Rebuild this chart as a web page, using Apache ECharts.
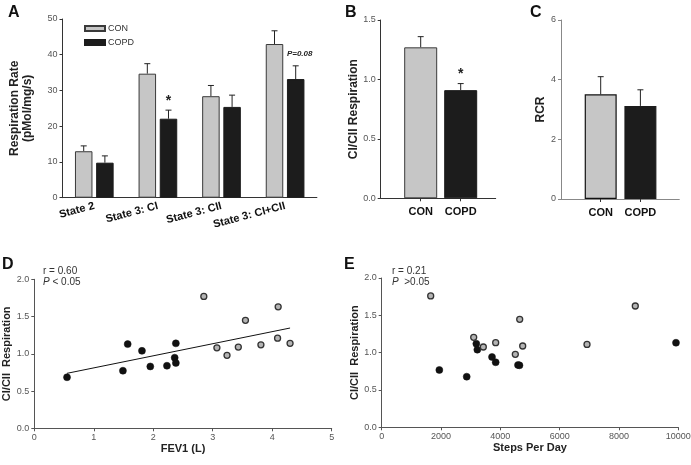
<!DOCTYPE html>
<html><head><meta charset="utf-8">
<script src="https://cdn.jsdelivr.net/npm/echarts@6/dist/echarts.min.js"></script>
<style>html,body{margin:0;padding:0;background:#fff}#c{width:691px;height:465px}</style>
</head><body><div id="c"></div>
<script>
// ---- data ----
const statesA = ['State 2', 'State 3: CI', 'State 3: CII', 'State 3: CI+CII'];
const conA = [13.0, 34.7, 28.4, 43.0];
const conAse = [1.5, 2.8, 3.0, 3.7];
const copdA = [9.8, 22.1, 25.4, 33.2];
const copdAse = [1.9, 2.4, 3.3, 3.7];
const groupsBC = ['CON', 'COPD'];
const ratioB = [1.27, 0.91];
const ratioBse = [0.09, 0.055];
const rcrC = [3.51, 3.12];
const rcrCse = [0.59, 0.54];
const fev1Copd = [0.55, 1.49, 1.57, 1.81, 1.95, 2.23, 2.38, 2.36, 2.38];
const ratioCopdD = [0.685, 0.773, 1.13, 1.04, 0.83, 0.84, 1.14, 0.948, 0.877];
const fev1Con = [2.85, 4.10, 3.55, 3.07, 3.24, 3.43, 3.81, 4.09, 4.30];
const ratioConD = [1.77, 1.63, 1.45, 1.08, 0.98, 1.09, 1.12, 1.21, 1.14];
const fitX = [0.55, 4.30];
const fitY = [0.738, 1.346];
const stepsCopd = [1943, 2866, 3190, 3224, 3719, 3843, 4595, 4645, 9922];
const ratioCopdE = [0.768, 0.678, 1.12, 1.04, 0.942, 0.871, 0.834, 0.83, 1.133];
const stepsCon = [1652, 3102, 3426, 3843, 4505, 4653, 4754, 6922, 8550];
const ratioConE = [1.76, 1.205, 1.076, 1.133, 0.978, 1.447, 1.089, 1.11, 1.625];
const ticksA = [0, 10, 20, 30, 40, 50];

// ---- styles ----
const FONT = 'Liberation Sans, Arial, sans-serif';
const CON_FILL = '#c6c6c6', CON_BORDER = '#3a3a3a', COPD_FILL = '#1c1c1c';
const BAR_W_A = 17.5, GAP_A = 0.21;
const tickLbl = {fontSize: 9, color: '#555', fontFamily: FONT, margin: 5};
const nameStyle = {fontSize: 12, fontWeight: 'bold', color: '#222', fontFamily: FONT};

function errItem(params, api, dx, note) {
  const base = api.coord([api.value(0), api.value(1)]);
  const top = api.coord([api.value(0), api.value(1) + api.value(2)]);
  const x = base[0] + dx;
  const stroke = {stroke: '#222', lineWidth: 1};
  const ch = [
    {type: 'line', shape: {x1: x, y1: base[1], x2: x, y2: top[1]}, style: stroke},
    {type: 'line', shape: {x1: x - 3, y1: top[1], x2: x + 3, y2: top[1]}, style: stroke}
  ];
  if (note && note.text) {
    ch.push({type: 'text', x: x + (note.dx || 0), y: top[1] - (note.dy || 0),
      style: {text: note.text, fontSize: note.size, fontWeight: 'bold', fontStyle: note.italic ? 'italic' : 'normal',
        fontFamily: FONT, fill: '#222', align: 'center', verticalAlign: 'middle'}});
  }
  return {type: 'group', children: ch};
}
const notesA = [[null, null, null, null], [null, {text: '*', size: 14, dy: 9}, null, {text: 'P=0.08', size: 8, italic: true, dx: 4, dy: 12}]];
const notesB = [null, {text: '*', size: 14, dy: 9}];
const off = BAR_W_A * (1 + GAP_A) / 2;

const chart = echarts.init(document.getElementById('c'), null, {renderer: 'canvas'});
const gridBase = {containLabel: false, outerBoundsMode: 'none'};
const plain = v => String(v);
chart.setOption({
  animation: false,
  textStyle: {fontFamily: FONT},
  grid: [
    Object.assign({left: 62.5, top: 19, width: 254.4, height: 178.7}, gridBase),
    Object.assign({left: 380.7, top: 20, width: 115, height: 178.3}, gridBase),
    Object.assign({left: 561, top: 20, width: 118.3, height: 179}, gridBase),
    Object.assign({left: 34.3, top: 279.3, width: 297.4, height: 149}, gridBase),
    Object.assign({left: 381.7, top: 278, width: 296.6, height: 149.3}, gridBase)
  ],
  legend: {
    gridIndex: 0, left: 79, top: 19, orient: 'vertical', itemWidth: 20, itemHeight: 5, itemGap: 5,
    icon: 'rect', data: ['CON', 'COPD'], textStyle: {fontSize: 9, color: '#333', fontFamily: FONT, padding: [0, 0, 0, -2]}
  },
  xAxis: [
    {gridIndex: 0, type: 'category', data: statesA, axisLine: {lineStyle: {color: '#333'}},
      axisTick: {alignWithLabel: true, length: 3, lineStyle: {color: '#333'}},
      axisLabel: {rotate: 15, fontSize: 11, fontWeight: 'bold', color: '#111', fontFamily: FONT, margin: 8, interval: 0}},
    {gridIndex: 1, type: 'value', min: 0, max: 2.875, interval: 1, splitLine: {show: false},
      axisLine: {onZero: false, lineStyle: {color: '#333'}},
      axisTick: {show: true, length: 3, customValues: [1, 2], lineStyle: {color: '#333'}},
      axisLabel: {customValues: [1, 2], formatter: v => groupsBC[Math.round(v) - 1] || '', fontSize: 11, fontWeight: 'bold', color: '#111', fontFamily: FONT, margin: 8}},
    {gridIndex: 2, type: 'value', min: 0, max: 2.98, interval: 1, splitLine: {show: false},
      axisLine: {onZero: false, lineStyle: {color: '#888'}},
      axisTick: {show: true, length: 3, customValues: [1, 2], lineStyle: {color: '#333'}},
      axisLabel: {customValues: [1, 2], formatter: v => groupsBC[Math.round(v) - 1] || '', fontSize: 11, fontWeight: 'bold', color: '#111', fontFamily: FONT, margin: 8}},
    {gridIndex: 3, type: 'value', min: 0, max: 5, interval: 1, splitLine: {show: false},
      axisLine: {onZero: false, lineStyle: {color: '#555'}}, axisTick: {length: 3, lineStyle: {color: '#555'}},
      axisLabel: Object.assign({}, tickLbl, {formatter: plain}), name: 'FEV1 (L)', nameLocation: 'middle', nameGap: 15, nameTextStyle: Object.assign({}, nameStyle, {fontSize: 11})},
    {gridIndex: 4, type: 'value', min: 0, max: 10000, interval: 2000, splitLine: {show: false},
      axisLine: {onZero: false, lineStyle: {color: '#555'}}, axisTick: {length: 3, lineStyle: {color: '#555'}},
      axisLabel: Object.assign({}, tickLbl, {formatter: plain}), name: 'Steps Per Day', nameLocation: 'middle', nameGap: 15, nameTextStyle: Object.assign({}, nameStyle, {fontSize: 11})}
  ],
  yAxis: [
    {gridIndex: 0, type: 'value', min: ticksA[0], max: ticksA[ticksA.length - 1], interval: 10, splitLine: {show: false},
      axisLine: {show: true, lineStyle: {color: '#333'}}, axisTick: {show: true, length: 3, lineStyle: {color: '#333'}},
      axisLabel: tickLbl, name: 'Respiration Rate\n(pMol/mg/s)', nameLocation: 'middle', nameRotate: 90, nameGap: 28,
      nameTextStyle: Object.assign({}, nameStyle, {lineHeight: 13})},
    {gridIndex: 1, type: 'value', min: 0, max: 1.5, interval: 0.5, splitLine: {show: false},
      axisLine: {show: true, lineStyle: {color: '#333'}}, axisTick: {show: true, length: 3, lineStyle: {color: '#333'}},
      axisLabel: Object.assign({}, tickLbl, {formatter: v => v.toFixed(1)}), name: 'CI/CII Respiration', nameLocation: 'middle', nameRotate: 90, nameGap: 21,
      nameTextStyle: nameStyle},
    {gridIndex: 2, type: 'value', min: 0, max: 6, interval: 2, splitLine: {show: false},
      axisLine: {show: true, lineStyle: {color: '#888'}}, axisTick: {show: true, length: 3, lineStyle: {color: '#888'}},
      axisLabel: tickLbl, name: 'RCR', nameLocation: 'middle', nameRotate: 90, nameGap: 13, nameTextStyle: nameStyle},
    {gridIndex: 3, type: 'value', min: 0, max: 2, interval: 0.5, splitLine: {show: false},
      axisLine: {show: true, lineStyle: {color: '#555'}}, axisTick: {show: true, length: 3, lineStyle: {color: '#555'}},
      axisLabel: Object.assign({}, tickLbl, {formatter: v => v.toFixed(1)}), name: 'CI/CII  Respiration', nameLocation: 'middle', nameRotate: 90, nameGap: 21,
      nameTextStyle: Object.assign({}, nameStyle, {fontSize: 11})},
    {gridIndex: 4, type: 'value', min: 0, max: 2, interval: 0.5, splitLine: {show: false},
      axisLine: {show: true, lineStyle: {color: '#555'}}, axisTick: {show: true, length: 3, lineStyle: {color: '#555'}},
      axisLabel: Object.assign({}, tickLbl, {formatter: v => v.toFixed(1)}), name: 'CI/CII  Respiration', nameLocation: 'middle', nameRotate: 90, nameGap: 21,
      nameTextStyle: Object.assign({}, nameStyle, {fontSize: 11})}
  ],
  series: [
    {name: 'CON', type: 'bar', xAxisIndex: 0, yAxisIndex: 0, data: conA, barWidth: BAR_W_A, barGap: (GAP_A * 100) + '%',
      itemStyle: {color: CON_FILL, borderColor: CON_BORDER, borderWidth: 1}},
    {name: 'COPD', type: 'bar', xAxisIndex: 0, yAxisIndex: 0, data: copdA, barWidth: BAR_W_A, barGap: (GAP_A * 100) + '%',
      itemStyle: {color: COPD_FILL, borderColor: COPD_FILL, borderWidth: 1}},
    {type: 'custom', xAxisIndex: 0, yAxisIndex: 0, z: 1,
      data: conA.map((v, i) => [i, v, conAse[i]]),
      renderItem: (p, api) => errItem(p, api, -off, notesA[0][p.dataIndex])},
    {type: 'custom', xAxisIndex: 0, yAxisIndex: 0, z: 1,
      data: copdA.map((v, i) => [i, v, copdAse[i]]),
      renderItem: (p, api) => errItem(p, api, off, notesA[1][p.dataIndex])},
    {type: 'bar', xAxisIndex: 1, yAxisIndex: 1, barWidth: 33,
      data: ratioB.map((v, i) => ({value: [i + 1, v], itemStyle: {color: i ? COPD_FILL : CON_FILL, borderColor: i ? COPD_FILL : CON_BORDER, borderWidth: 1}}))},
    {type: 'custom', xAxisIndex: 1, yAxisIndex: 1, z: 1,
      data: ratioB.map((v, i) => [i + 1, v, ratioBse[i]]),
      renderItem: (p, api) => errItem(p, api, 0, notesB[p.dataIndex])},
    {type: 'bar', xAxisIndex: 2, yAxisIndex: 2, barWidth: 32,
      data: rcrC.map((v, i) => ({value: [i + 1, v], itemStyle: {color: i ? COPD_FILL : CON_FILL, borderColor: i ? COPD_FILL : '#111', borderWidth: 1.2}}))},
    {type: 'custom', xAxisIndex: 2, yAxisIndex: 2, z: 1,
      data: rcrC.map((v, i) => [i + 1, v, rcrCse[i]]),
      renderItem: (p, api) => errItem(p, api, 0, null)},
    {type: 'line', xAxisIndex: 3, yAxisIndex: 3, data: fitX.map((x, i) => [x, fitY[i]]), symbol: 'none',
      lineStyle: {color: '#111', width: 1}},
    {type: 'scatter', xAxisIndex: 3, yAxisIndex: 3, data: fev1Copd.map((x, i) => [x, ratioCopdD[i]]), symbolSize: 7,
      itemStyle: {color: '#111', borderColor: '#111', borderWidth: 0.5, opacity: 1}},
    {type: 'scatter', xAxisIndex: 3, yAxisIndex: 3, data: fev1Con.map((x, i) => [x, ratioConD[i]]), symbolSize: 6,
      itemStyle: {color: '#b4b4b4', borderColor: '#333', borderWidth: 1.3, opacity: 1}},
    {type: 'scatter', xAxisIndex: 4, yAxisIndex: 4, data: stepsCopd.map((x, i) => [x, ratioCopdE[i]]), symbolSize: 7,
      itemStyle: {color: '#111', borderColor: '#111', borderWidth: 0.5, opacity: 1}},
    {type: 'scatter', xAxisIndex: 4, yAxisIndex: 4, data: stepsCon.map((x, i) => [x, ratioConE[i]]), symbolSize: 6,
      itemStyle: {color: '#b4b4b4', borderColor: '#333', borderWidth: 1.3, opacity: 1}}
  ],
  graphic: [
    {type: 'text', left: 8, top: 5, style: {text: 'A', fontSize: 16, fontWeight: 'bold', fill: '#111', fontFamily: FONT}},
    {type: 'text', left: 345, top: 5, style: {text: 'B', fontSize: 16, fontWeight: 'bold', fill: '#111', fontFamily: FONT}},
    {type: 'text', left: 530, top: 5, style: {text: 'C', fontSize: 16, fontWeight: 'bold', fill: '#111', fontFamily: FONT}},
    {type: 'text', left: 2, top: 257, style: {text: 'D', fontSize: 16, fontWeight: 'bold', fill: '#111', fontFamily: FONT}},
    {type: 'text', left: 344, top: 257, style: {text: 'E', fontSize: 16, fontWeight: 'bold', fill: '#111', fontFamily: FONT}},
    {type: 'text', left: 43, top: 266, style: {text: 'r = 0.60', fontSize: 10, fill: '#333', fontFamily: FONT}},
    {type: 'text', left: 43, top: 277, style: {text: '{i|P} < 0.05', fontSize: 10, fill: '#333', fontFamily: FONT,
      rich: {i: {fontStyle: 'italic', fontSize: 10, fill: '#333', fontFamily: FONT}}}},
    {type: 'text', left: 392, top: 266, style: {text: 'r = 0.21', fontSize: 10, fill: '#333', fontFamily: FONT}},
    {type: 'text', left: 392, top: 277, style: {text: '{i|P}  >0.05', fontSize: 10, fill: '#333', fontFamily: FONT,
      rich: {i: {fontStyle: 'italic', fontSize: 10, fill: '#333', fontFamily: FONT}}}}
  ]
});
</script></body></html>
